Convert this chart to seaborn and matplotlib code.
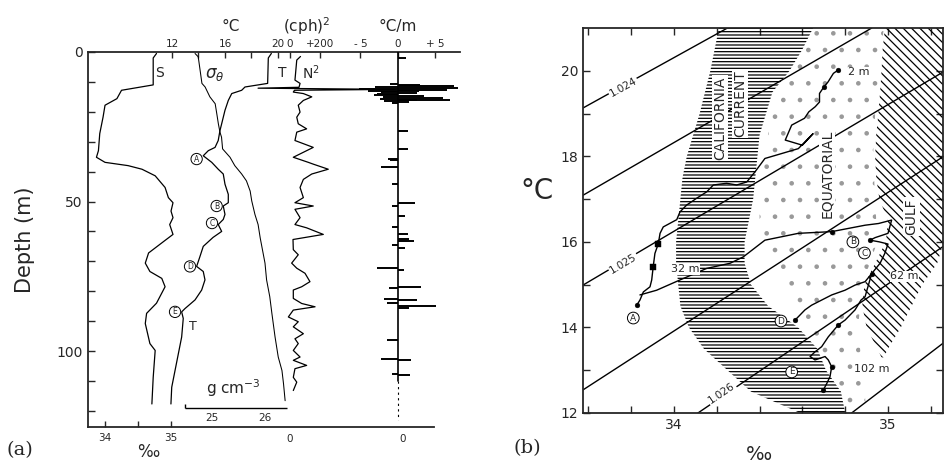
import numpy as np
import pandas as pd
import matplotlib
matplotlib.use("Agg")
import matplotlib.pyplot as plt
import seaborn as sns

# ---------------- panel (a): profiles against depth ----------------
s_depth = [0.5, 2, 11, 12.8, 15.6, 17.8, 21.8, 27.3, 33, 35.2, 36.9, 38, 39.2, 41.4, 45.3, 48.7, 50.4,
           53.2, 55.4, 57.7, 61, 63, 67.2, 70.6, 73.4, 75.7, 78.5, 84, 87.4, 90.8, 97.5, 99.8, 108.8, 117.7]
s_vals = [34.78, 34.73, 34.73, 34.25, 34.18, 34.0, 33.97, 33.92, 33.90, 33.87, 34.0, 34.35, 34.56, 34.76, 34.91,
          34.96, 35.03, 35.0, 35.03, 34.98, 35.03, 34.91, 34.66, 34.61, 34.68, 34.86, 34.91, 34.78, 34.63, 34.61,
          34.68, 34.76, 34.73, 34.71]

t_depth = [0.5, 2, 10.5, 11.7, 12.8, 13.9, 16.2, 19.5, 24, 26.3, 29.6, 31.9, 33, 34.7, 36.9, 39.2, 40.8, 44.2,
           47.6, 50.4, 51.5, 54.3, 56, 57.7, 60, 62, 65, 68.4, 71.7, 73.4, 76.2, 79.6, 82.9, 85.8, 86.9, 89.1,
           95.3, 100.9, 106.5, 112.1, 117.7]
t_vals = [19.5, 19.27, 19.22, 17.51, 17.26, 16.51, 16.25, 16.0, 15.75, 15.62, 15.49, 15.25, 14.74, 14.36, 15.0,
          15.49, 15.87, 16.0, 16.25, 16.25, 15.87, 16.0, 15.87, 15.49, 15.75, 15.1, 14.36, 14.11, 13.86, 14.36,
          14.49, 14.24, 13.74, 12.98, 12.73, 12.85, 12.73, 12.48, 12.23, 11.98, 11.92]

sig_depth = [0.5, 1.6, 10.5, 11.7, 12.8, 15, 17.3, 20.6, 24, 26.8, 28.5, 32.4, 35.2, 38, 40.8, 43.1, 46.5, 49.8,
             54.3, 57.7, 62.2, 70.6, 76.2, 81.8, 87.4, 95.3, 102, 106.5, 111, 116.6]
sig_vals = [24.68, 24.74, 24.81, 24.87, 24.90, 24.96, 25.06, 25.09, 25.12, 25.15, 25.18, 25.20, 25.34, 25.43,
            25.56, 25.65, 25.72, 25.75, 25.81, 25.87, 25.91, 26.0, 26.03, 26.09, 26.13, 26.19, 26.25, 26.32,
            26.35, 26.38]

n2_depth = [1.5, 2.7, 9.4, 10.5, 11.8, 12.1, 12.5, 12.8, 13.4, 13.9, 15, 16.2, 17.8, 20.1, 21.8, 24, 25.7, 26.8,
            29.6, 31.9, 35.2, 36.9, 37.5, 39.2, 40.8, 42.6, 45.3, 48.7, 50.4, 51.5, 52.6, 55.4, 57.7, 58.8, 61,
            62.7, 66.1, 67.8, 70.6, 72.3, 74, 76.8, 78.5, 79.6, 82.4, 84.1, 85.2, 86.3, 88.6, 90.2, 91.9, 94.2,
            95.9, 97.5, 99.8, 102, 103.1, 104.8, 105.9, 108.8, 110.4, 113.2]
n2_vals = [70, 45, 33, 67, 60, -213, 700, 30, 22, 89, 145, 89, 55, 67, 45, 55, 111, 45, 33, 155, 22, 122, 155,
           255, 145, 89, 67, 89, 33, 155, 33, 67, 33, 111, 222, 20, 22, 55, 11, 45, 100, 133, 78, 22, 22, 78,
           167, 22, -11, 55, 22, 89, 33, 55, 22, 67, 22, 111, 33, 22, 45, 22]

dt_depth = [2.0, 10.8, 11.1, 11.4, 11.7, 12.0, 12.3, 12.6, 12.9, 13.2, 13.5, 13.8, 14.1, 14.4, 14.7, 15.0, 15.3,
            15.6, 15.9, 16.2, 16.5, 16.8, 17.1, 26.3, 32.3, 35.7, 36.2, 38.4, 44.0, 50.4, 51.5, 55.0, 58.4, 61.0,
            62.5, 63.3, 64.5, 65.5, 72.3, 73.0, 78.5, 79.0, 82.5, 83.0, 84.0, 84.8, 85.5, 96.3, 102.6, 103.0,
            107.7, 108.0]
dt_vals = [1.1, -1.0, 3.0, 7.5, -3.0, 8.0, -5.2, 6.5, -4.0, 2.8, -2.2, 2.5, -2.8, -3.2, 3.5, -2.0, 6.0, -2.4,
           7.0, 2.5, -1.8, 1.5, -0.8, 1.4, 1.3, -1.3, -1.0, -2.3, -0.8, 2.3, -0.8, 1.0, -0.8, 1.3, 1.5, 2.2, -0.8,
           1.0, -2.8, 0.8, 3.1, -1.2, -1.8, 2.6, -1.5, 5.1, 1.5, -1.5, -2.3, 1.7, -0.8, 1.6]

marks_a = ["A", "B", "C", "D", "E"]
marks_a_t = [13.86, 15.37, 15.02, 13.36, 12.23]
marks_a_depth = [35.8, 51.5, 57.2, 71.7, 86.9]

# ---------------- panel (b): T-S diagram ----------------
ts1_s = [34.765, 34.745, 34.72, 34.70, 34.68, 34.68, 34.66, 34.63, 34.61, 34.58, 34.55, 34.52, 34.60, 34.65,
         34.581, 34.425, 34.379, 34.34, 34.293, 34.246, 34.184, 34.153, 34.106, 34.059, 34.028, 34.013, 33.95,
         33.935, 33.927, 33.911, 33.903, 33.896, 33.888, 33.857, 33.841, 33.826]
ts1_t = [20.01, 19.94, 19.74, 19.62, 19.47, 19.27, 19.16, 19.04, 18.89, 18.81, 18.73, 18.38, 18.26, 18.53,
         18.18, 17.95, 17.64, 17.40, 17.33, 17.37, 17.33, 17.17, 17.02, 16.86, 16.70, 16.52, 16.35, 16.20,
         15.96, 15.73, 15.42, 15.11, 14.95, 14.83, 14.64, 14.52]
ts2_s = [33.841, 33.919, 34.028, 34.153, 34.262, 34.324, 34.425, 34.581, 34.737, 34.893, 34.956, 35.017, 35.0,
         34.94, 34.916, 34.96, 35.0, 34.985, 34.963, 34.924, 34.893, 34.846, 34.799, 34.737, 34.69, 34.643,
         34.612, 34.581, 34.565]
ts2_t = [14.76, 14.87, 15.11, 15.38, 15.50, 15.65, 16.04, 16.20, 16.24, 16.39, 16.43, 16.51, 16.2, 16.1, 16.04,
         16.0, 15.95, 15.73, 15.50, 15.26, 15.07, 14.99, 14.87, 14.76, 14.64, 14.52, 14.41, 14.25, 14.17]
ts3_s = [34.924, 34.893, 34.874, 34.846, 34.799, 34.768, 34.721, 34.69, 34.659, 34.636, 34.659, 34.706, 34.721,
         34.737, 34.729, 34.714, 34.698]
ts3_t = [15.26, 14.72, 14.64, 14.41, 14.17, 14.06, 13.78, 13.55, 13.43, 13.32, 13.24, 13.32, 13.24, 13.08,
         12.85, 12.69, 12.54]

dot_s = [34.765, 34.70, 33.826, 34.737, 34.916, 34.924, 34.565, 34.768, 34.737, 34.698]
dot_t = [20.01, 19.62, 14.52, 16.24, 16.04, 15.26, 14.17, 14.06, 13.08, 12.54]
sq_s = [33.927, 33.903]
sq_t = [15.96, 15.42]

depth_tags = ["2 m", "32 m", "62 m", "102 m"]
depth_tag_s = [34.815, 33.985, 35.01, 34.84]
depth_tag_t = [19.96, 15.36, 15.2, 13.04]

marks_b = ["A", "B", "C", "D", "E"]
marks_b_s = [33.81, 34.836, 34.89, 34.50, 34.55]
marks_b_t = [14.22, 16.0, 15.74, 14.15, 12.96]

# isopycnals: start / end points
iso_s0 = [33.575, 33.575, 33.575, 33.575, 34.112, 34.83]
iso_t0 = [19.13, 17.09, 14.99, 12.54, 12.0, 12.0]
iso_s1 = [34.25, 34.924, 35.257, 35.257, 35.257, 35.257]
iso_t1 = [21.0, 21.0, 19.97, 17.99, 15.89, 13.63]
iso_labels = ["1.024", "1.025", "1.026"]
iso_lab_s = [33.763, 33.763, 34.223]
iso_lab_t = [19.62, 15.50, 12.46]
iso_lab_rot = [29, 31, 34]

# water mass regions
cc_t = [12.0, 12.5, 13.0, 13.5, 14.0, 14.5, 15.0, 15.5, 16.0, 16.5, 17.0, 17.5, 18.0, 18.5, 19.0, 19.5, 20.0,
        20.5, 21.0]
cc_left = [34.59, 34.36, 34.25, 34.14, 34.07, 34.03, 34.02, 34.01, 34.01, 34.02, 34.03, 34.04, 34.06, 34.09,
           34.12, 34.145, 34.17, 34.19, 34.21]
cc_right = [34.80, 34.78, 34.71, 34.67, 34.58, 34.44, 34.36, 34.33, 34.33, 34.35, 34.37, 34.38, 34.39, 34.40,
            34.43, 34.46, 34.54, 34.60, 34.65]
gu_t = [13.3, 13.5, 14.0, 14.5, 15.0, 15.5, 16.0, 16.5, 17.0, 17.5, 18.0, 18.5, 19.0, 19.5, 20.0, 20.5, 21.0]
gu_left = [34.97, 34.95, 34.90, 34.88, 34.89, 34.94, 34.99, 35.0, 34.96, 34.945, 34.94, 34.945, 34.955, 34.963,
           34.97, 34.975, 34.986]
gu_right = [34.98, 35.00, 35.06, 35.11, 35.16, 35.23, 35.26, 35.26, 35.26, 35.26, 35.26, 35.26, 35.26, 35.26,
            35.26, 35.26, 35.26]
eq_t = [12.0, 13.0, 14.0, 15.0, 16.0, 17.0, 18.0, 19.0, 20.0, 21.0]
eq_left = [34.80, 34.72, 34.62, 34.50, 34.40, 34.40, 34.42, 34.46, 34.56, 34.66]
eq_right = [34.90, 34.88, 34.86, 34.88, 34.95, 34.94, 34.93, 34.94, 34.96, 34.98]


def line(axis, x, y, lw=0.9, **kw):
    sns.lineplot(x=x, y=y, sort=False, estimator=None, ax=axis, color="black", lw=lw, **kw)
    axis.set_xlabel("")
    axis.set_ylabel("")


def circled(axis, x, y, s, size=6):
    axis.text(x, y, s, ha="center", va="center", fontsize=size, zorder=5,
              bbox=dict(boxstyle="circle,pad=0.15", fc="white", ec="black", lw=0.7))


sns.set_style("ticks")
plt.rcParams["font.family"] = ["DejaVu Sans"]
plt.rcParams["hatch.linewidth"] = 0.9
plt.rcParams["xtick.direction"] = "in"
plt.rcParams["ytick.direction"] = "in"

fig = plt.figure(figsize=(9.51, 4.66), dpi=100)

# ---------- panel (a) ----------
ylim_a = (125.4, 0)
ax = fig.add_axes([88 / 951, 39 / 466, 372 / 951, 375 / 466])
axT = ax.twiny()
axSig = ax.twiny()
axN = ax.twiny()
axD = ax.twiny()
axNb = ax.twiny()
axDb = ax.twiny()

line(ax, s_vals, s_depth)
line(axT, t_vals, t_depth)
line(axSig, sig_vals, sig_depth, lw=0.75)
line(axN, n2_vals, n2_depth)
axD.hlines(dt_depth, 0, dt_vals, color="black", lw=1.4)
line(axD, [0, 0], [0, 110], lw=1.2)
line(axD, [0, 0], [110, 123], lw=0.8, linestyle=(0, (2, 3)))

ax.set_xlim(33.742, 39.379)
axT.set_xlim(5.66, 33.74)
axSig.set_xlim(22.66, 29.68)
axN.set_xlim(-1346.7, 1133.3)
axNb.set_xlim(-1346.7, 1133.3)
axD.set_xlim(-41.33, 8.27)
axDb.set_xlim(-42.0, 7.6)
for a in [ax, axT, axSig, axN, axD, axNb, axDb]:
    a.set_ylim(*ylim_a)

for a in [axT, axSig, axN, axD, axNb, axDb]:
    for sp in a.spines.values():
        sp.set_visible(False)
ax.spines["right"].set_visible(False)
for sp in ["left", "top", "bottom"]:
    ax.spines[sp].set_linewidth(1.3)
ax.spines["bottom"].set_bounds(33.742, 38.985)

ax.set_yticks(np.arange(0, 121, 10))
ax.set_yticklabels(["0", "", "", "", "", "50", "", "", "", "", "100", "", ""])
ax.tick_params(axis="y", left=True, right=False, length=5, width=1, labelsize=10, pad=4)
ax.set_xticks([34, 34.5, 35])
ax.set_xticklabels(["34", "", "35"])
ax.tick_params(axis="x", bottom=True, top=False, length=4, width=1, labelsize=7.5, pad=4)

axT.set_xticks([12, 14, 16, 18, 20])
axT.set_xticklabels(["12", "", "16", "", "20"])
axN.set_xticks([0, 200])
axN.set_xticklabels(["0", "+200"])
axD.set_xticks([-5, 0, 5])
axD.set_xticklabels(["- 5", "0", "+ 5"])
for a in [axT, axN, axD]:
    a.tick_params(axis="x", top=True, bottom=False, labeltop=True, labelbottom=False,
                  length=4, width=1, labelsize=7.5, pad=2)
axSig.set_xticks([])
axSig.tick_params(axis="x", top=False, bottom=False, labeltop=False)
for a in [axNb, axDb]:
    a.xaxis.set_ticks_position("bottom")
    a.set_xticks([0])
    a.tick_params(axis="x", top=False, bottom=True, labeltop=False, labelbottom=True,
                  length=0, labelsize=7.5, pad=5)
for a in [axT, axSig, axN, axD, axNb, axDb]:
    a.tick_params(axis="y", left=False, right=False, labelleft=False, labelright=False)

ax.set_ylabel("Depth (m)", fontsize=15)
ax.yaxis.set_label_coords(-0.142, 0.5)
ax.text(0.161, -0.067, "‰", transform=ax.transAxes, ha="center", va="center", fontsize=12)
axT.text(16.4, 1.069, "°C", transform=axT.get_xaxis_transform(), ha="center", va="center", fontsize=11)
axN.text(113, 1.069, "(cph)$^2$", transform=axN.get_xaxis_transform(), ha="center", va="center", fontsize=11)
axD.text(-0.1, 1.069, "°C/m", transform=axD.get_xaxis_transform(), ha="center", va="center", fontsize=11)

axT.text(20.3, 7.0, "T", ha="center", va="center", fontsize=10)
axT.text(15.2, 7.5, r"$\sigma_\theta$", ha="center", va="center", fontsize=12)
ax.text(34.83, 7.0, "S", ha="center", va="center", fontsize=10)
axN.text(140, 7.0, "N$^2$", ha="center", va="center", fontsize=10)
axT.text(13.6, 91.9, "T", ha="center", va="center", fontsize=9)
for lab, tx, dy in zip(marks_a, marks_a_t, marks_a_depth):
    circled(axT, tx, dy, lab, size=5.5)

# density scale bar
axSig.hlines(119.1, 24.49, 26.415, color="black", lw=1.0)
axSig.vlines([24.49], 117.6, 119.1, color="black", lw=1.0)
axSig.text(25.0, 122.3, "25", ha="center", va="center", fontsize=7.5)
axSig.text(26.0, 122.3, "26", ha="center", va="center", fontsize=7.5)
axSig.text(25.4, 112.4, "g cm$^{-3}$", ha="center", va="center", fontsize=11)

# ---------- panel (b) ----------
bx = fig.add_axes([583 / 951, 53 / 466, 360 / 951, 385 / 466])
bx.fill_betweenx(cc_t, cc_left, cc_right, facecolor="none", edgecolor="black", hatch="-----", lw=0, zorder=1)
bx.fill_betweenx(eq_t, eq_left, eq_right, facecolor="none", edgecolor="0.6", hatch=".", lw=0, zorder=1)
bx.fill_betweenx(gu_t, gu_left, gu_right, facecolor="none", edgecolor="black", hatch="\\\\\\\\", lw=0, zorder=1)

for s0, t0, s1, t1 in zip(iso_s0, iso_t0, iso_s1, iso_t1):
    line(bx, [s0, s1], [t0, t1], lw=1.0)
for lab, ls, lt, rot in zip(iso_labels, iso_lab_s, iso_lab_t, iso_lab_rot):
    bx.text(ls, lt, lab, rotation=rot, ha="center", va="center", fontsize=7.5, zorder=4,
            bbox=dict(boxstyle="square,pad=0.1", fc="white", ec="none"))

line(bx, ts1_s, ts1_t, lw=1.0)
line(bx, ts2_s, ts2_t, lw=1.0)
line(bx, ts3_s, ts3_t, lw=1.0)
sns.scatterplot(x=dot_s, y=dot_t, ax=bx, color="black", s=12, marker="o", edgecolor="black", zorder=4)
sns.scatterplot(x=sq_s, y=sq_t, ax=bx, color="black", s=14, marker="s", edgecolor="black", zorder=4)

for lab, ds, dt in zip(depth_tags, depth_tag_s, depth_tag_t):
    bx.text(ds, dt, lab, ha="left", va="center", fontsize=8, zorder=5,
            bbox=dict(boxstyle="square,pad=0.05", fc="white", ec="none"))
for lab, ms, mt in zip(marks_b, marks_b_s, marks_b_t):
    circled(bx, ms, mt, lab, size=6.5)

for txt, xs, yt in [("CALIFORNIA", 34.215, 18.9), ("CURRENT", 34.31, 19.24),
                    ("EQUATORIAL", 34.715, 17.6), ("GULF", 35.11, 16.6)]:
    bx.text(xs, yt, txt, rotation=90, ha="center", va="center", fontsize=10, zorder=5,
            bbox=dict(boxstyle="square,pad=0.08", fc="white", ec="none"))

bx.set_xlim(33.575, 35.257)
bx.set_ylim(12, 21)
bx.set_xticks(np.arange(33.6, 35.21, 0.2))
bx.set_xticklabels(["34" if abs(v - 34) < 1e-6 else "35" if abs(v - 35) < 1e-6 else ""
                    for v in np.arange(33.6, 35.21, 0.2)])
bx.set_yticks(np.arange(12, 21, 1))
bx.set_yticklabels([str(v) if v % 2 == 0 else "" for v in range(12, 21)])
bx.tick_params(axis="both", which="both", direction="in", top=True, right=True, length=5, width=1,
               labelsize=10)
for sp in bx.spines.values():
    sp.set_linewidth(1.3)
bx.set_ylabel("°C", fontsize=20, rotation=0)
bx.yaxis.set_label_coords(-0.128, 0.54)
bx.set_xlabel("‰", fontsize=14)
bx.xaxis.set_label_coords(0.49, -0.082)

fig.text(20 / 951, 1 - 450 / 466, "(a)", fontsize=14, family="DejaVu Serif", ha="center", va="center")
fig.text(527 / 951, 1 - 448 / 466, "(b)", fontsize=14, family="DejaVu Serif", ha="center", va="center")

fig.savefig("out.png", dpi=100)
